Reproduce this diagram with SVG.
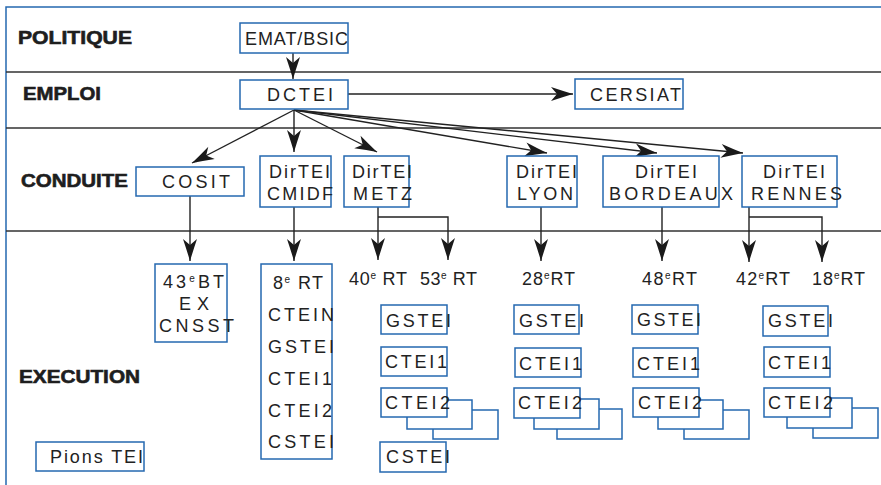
<svg xmlns="http://www.w3.org/2000/svg" width="881" height="485" viewBox="0 0 881 485">
<style>
.lbl{font-family:"Liberation Sans",Arial,sans-serif;font-weight:bold;font-size:18px;fill:#1e1e1e;stroke:#1e1e1e;stroke-width:0.6}
.t{font-family:"Liberation Sans",Arial,sans-serif;font-size:18px;fill:#222}
.sup{font-size:10px}
.box{fill:#fff;stroke:#2568b0;stroke-width:1.5}
.sep{stroke:#333;stroke-width:1.5;fill:none}
.frame{stroke:#2568b0;stroke-width:1.5;fill:none}
.c{stroke:#222;stroke-width:1.4;fill:none}
</style>
<defs>
<marker id="ah" markerUnits="userSpaceOnUse" markerWidth="24" markerHeight="16" refX="22" refY="8" orient="auto" overflow="visible">
<path d="M22,8 Q12,5 0,1 L6,8 L0,15 Q12,11 22,8 Z" fill="#1a1a1a"/>
</marker>
</defs>
<rect width="881" height="485" fill="#fff"/>
<g id="frame">
<path class="frame" d="M6,485 V7 H881"/>
<path class="sep" d="M6,72 H881 M6,128 H881 M6,231 H881"/>
</g>
<g id="labels">
<text class="lbl" x="18" y="44" textLength="114" lengthAdjust="spacingAndGlyphs">POLITIQUE</text>
<text class="lbl" x="23" y="100" textLength="78" lengthAdjust="spacingAndGlyphs">EMPLOI</text>
<text class="lbl" x="21" y="187" textLength="107" lengthAdjust="spacingAndGlyphs">CONDUITE</text>
<text class="lbl" x="19" y="383" textLength="121" lengthAdjust="spacingAndGlyphs">EXECUTION</text>
</g>
<g id="connectors">
<path class="c" d="M293,53 V79" marker-end="url(#ah)"/>
<path class="c" d="M348,94 H573" marker-end="url(#ah)"/>
<path class="c" d="M294,110 L192,163" marker-end="url(#ah)"/>
<path class="c" d="M294,110 L294,152" marker-end="url(#ah)"/>
<path class="c" d="M294,110 L377,152" marker-end="url(#ah)"/>
<path class="c" d="M294,110 L547,153" marker-end="url(#ah)"/>
<path class="c" d="M294,110 L657,153" marker-end="url(#ah)"/>
<path class="c" d="M294,110 L743,153" marker-end="url(#ah)"/>
<path class="c" d="M190,196 V261" marker-end="url(#ah)"/>
<path class="c" d="M294,207 V261" marker-end="url(#ah)"/>
<path class="c" d="M378,207 V260" marker-end="url(#ah)"/>
<path class="c" d="M378,217 H448 V260" marker-end="url(#ah)"/>
<path class="c" d="M541,207 V261" marker-end="url(#ah)"/>
<path class="c" d="M662,207 V261" marker-end="url(#ah)"/>
<path class="c" d="M749,207 V262" marker-end="url(#ah)"/>
<path class="c" d="M749,217 H822 V262" marker-end="url(#ah)"/>
</g>
<g id="emat">
<rect class="box" x="240" y="23" width="108" height="30"/>
<text class="t" x="245" y="45" textLength="103">EMAT/BSIC</text>
</g>
<g id="dctei">
<rect class="box" x="240" y="80" width="108" height="29"/>
<text class="t" x="267" y="101" textLength="66">DCTEI</text>
</g>
<g id="cersiat">
<rect class="box" x="575" y="79" width="108" height="30"/>
<text class="t" x="590" y="101" textLength="91">CERSIAT</text>
</g>
<g id="cosit">
<rect class="box" x="136" y="167" width="108" height="29"/>
<text class="t" x="162" y="188" textLength="68">COSIT</text>
</g>
<g id="dirtei-cmidf">
<rect class="box" x="260" y="156" width="71" height="51"/>
<text class="t" x="269" y="178" textLength="61">DirTEI</text>
<text class="t" x="267" y="200" textLength="66">CMIDF</text>
</g>
<g id="dirtei-metz">
<rect class="box" x="344" y="156" width="65" height="51"/>
<text class="t" x="352" y="178" textLength="60">DirTEI</text>
<text class="t" x="353" y="200" textLength="59">METZ</text>
</g>
<g id="dirtei-lyon">
<rect class="box" x="507" y="156" width="70" height="51"/>
<text class="t" x="516" y="178" textLength="61">DirTEI</text>
<text class="t" x="517" y="200" textLength="56">LYON</text>
</g>
<g id="dirtei-bordeaux">
<rect class="box" x="603" y="156" width="116" height="51"/>
<text class="t" x="635" y="178" textLength="62">DirTEI</text>
<text class="t" x="609" y="200" textLength="124">BORDEAUX</text>
</g>
<g id="dirtei-rennes">
<rect class="box" x="742" y="156" width="95" height="51"/>
<text class="t" x="763" y="178" textLength="62">DirTEI</text>
<text class="t" x="751" y="200" textLength="91">RENNES</text>
</g>
<g id="bt43">
<rect class="box" x="155" y="264" width="72" height="78"/>
<text class="t" x="163" y="288" textLength="61">43<tspan class="sup" dy="-6">e</tspan><tspan dy="6">BT</tspan></text>
<text class="t" x="179" y="310" textLength="30">EX</text>
<text class="t" x="159" y="332" textLength="75">CNSST</text>
</g>
<g id="rt8">
<rect class="box" x="261" y="264" width="71" height="195"/>
<text class="t" x="273" y="289" textLength="50">8<tspan class="sup" dy="-6">e</tspan><tspan dy="6"> RT</tspan></text>
<text class="t" x="268" y="321" textLength="66">CTEIN</text>
<text class="t" x="268" y="353" textLength="66">GSTEI</text>
<text class="t" x="268" y="385" textLength="64">CTEI1</text>
<text class="t" x="268" y="417" textLength="64">CTEI2</text>
<text class="t" x="268" y="448" textLength="66">CSTEI</text>
</g>
<g id="rt-labels">
<text class="t" x="349" y="285" textLength="58">40<tspan class="sup" dy="-6">e</tspan><tspan dy="6"> RT</tspan></text>
<text class="t" x="420" y="285" textLength="57">53<tspan class="sup" dy="-6">e</tspan><tspan dy="6"> RT</tspan></text>
<text class="t" x="522" y="285" textLength="53">28<tspan class="sup" dy="-6">e</tspan><tspan dy="6">RT</tspan></text>
<text class="t" x="642" y="285" textLength="55">48<tspan class="sup" dy="-6">e</tspan><tspan dy="6">RT</tspan></text>
<text class="t" x="736" y="285" textLength="54">42<tspan class="sup" dy="-6">e</tspan><tspan dy="6">RT</tspan></text>
<text class="t" x="812" y="285" textLength="53">18<tspan class="sup" dy="-6">e</tspan><tspan dy="6">RT</tspan></text>
</g>
<g id="metz-units">
<rect class="box" x="381" y="305" width="66" height="29"/>
<text class="t" x="386" y="327" textLength="65">GSTEI</text>
<rect class="box" x="381" y="347" width="66" height="29"/>
<text class="t" x="385" y="368" textLength="62">CTEI1</text>
<rect class="box" x="433" y="410" width="65" height="29"/>
<rect class="box" x="407" y="400" width="65" height="29"/>
<rect class="box" x="381" y="388" width="66" height="29"/>
<text class="t" x="385" y="409" textLength="65">CTEI2</text>
<rect class="box" x="380" y="442" width="66" height="30"/>
<text class="t" x="386" y="463" textLength="64">CSTEI</text>
</g>
<g id="lyon-units">
<rect class="box" x="514" y="305" width="65" height="29"/>
<text class="t" x="519" y="327" textLength="65">GSTEI</text>
<rect class="box" x="515" y="348" width="66" height="29"/>
<text class="t" x="519" y="370" textLength="63">CTEI1</text>
<rect class="box" x="557" y="409" width="65" height="30"/>
<rect class="box" x="534" y="399" width="65" height="30"/>
<rect class="box" x="514" y="388" width="66" height="30"/>
<text class="t" x="518" y="409" textLength="64">CTEI2</text>
</g>
<g id="bordeaux-units">
<rect class="box" x="632" y="305" width="66" height="29"/>
<text class="t" x="637" y="326" textLength="64">GSTEI</text>
<rect class="box" x="633" y="348" width="65" height="29"/>
<text class="t" x="637" y="370" textLength="63">CTEI1</text>
<rect class="box" x="684" y="410" width="65" height="29"/>
<rect class="box" x="658" y="400" width="65" height="29"/>
<rect class="box" x="633" y="388" width="66" height="29"/>
<text class="t" x="638" y="409" textLength="64">CTEI2</text>
</g>
<g id="rennes-units">
<rect class="box" x="763" y="306" width="65" height="30"/>
<text class="t" x="768" y="327" textLength="65">GSTEI</text>
<rect class="box" x="764" y="347" width="66" height="30"/>
<text class="t" x="768" y="369" textLength="63">CTEI1</text>
<rect class="box" x="813" y="408" width="65" height="30"/>
<rect class="box" x="787" y="398" width="65" height="30"/>
<rect class="box" x="764" y="388" width="66" height="29"/>
<text class="t" x="768" y="409" textLength="65">CTEI2</text>
</g>
<g id="pions-tei">
<rect class="box" x="36" y="442" width="108" height="29"/>
<text class="t" x="50" y="463" textLength="93">Pions TEI</text>
</g>
</svg>
